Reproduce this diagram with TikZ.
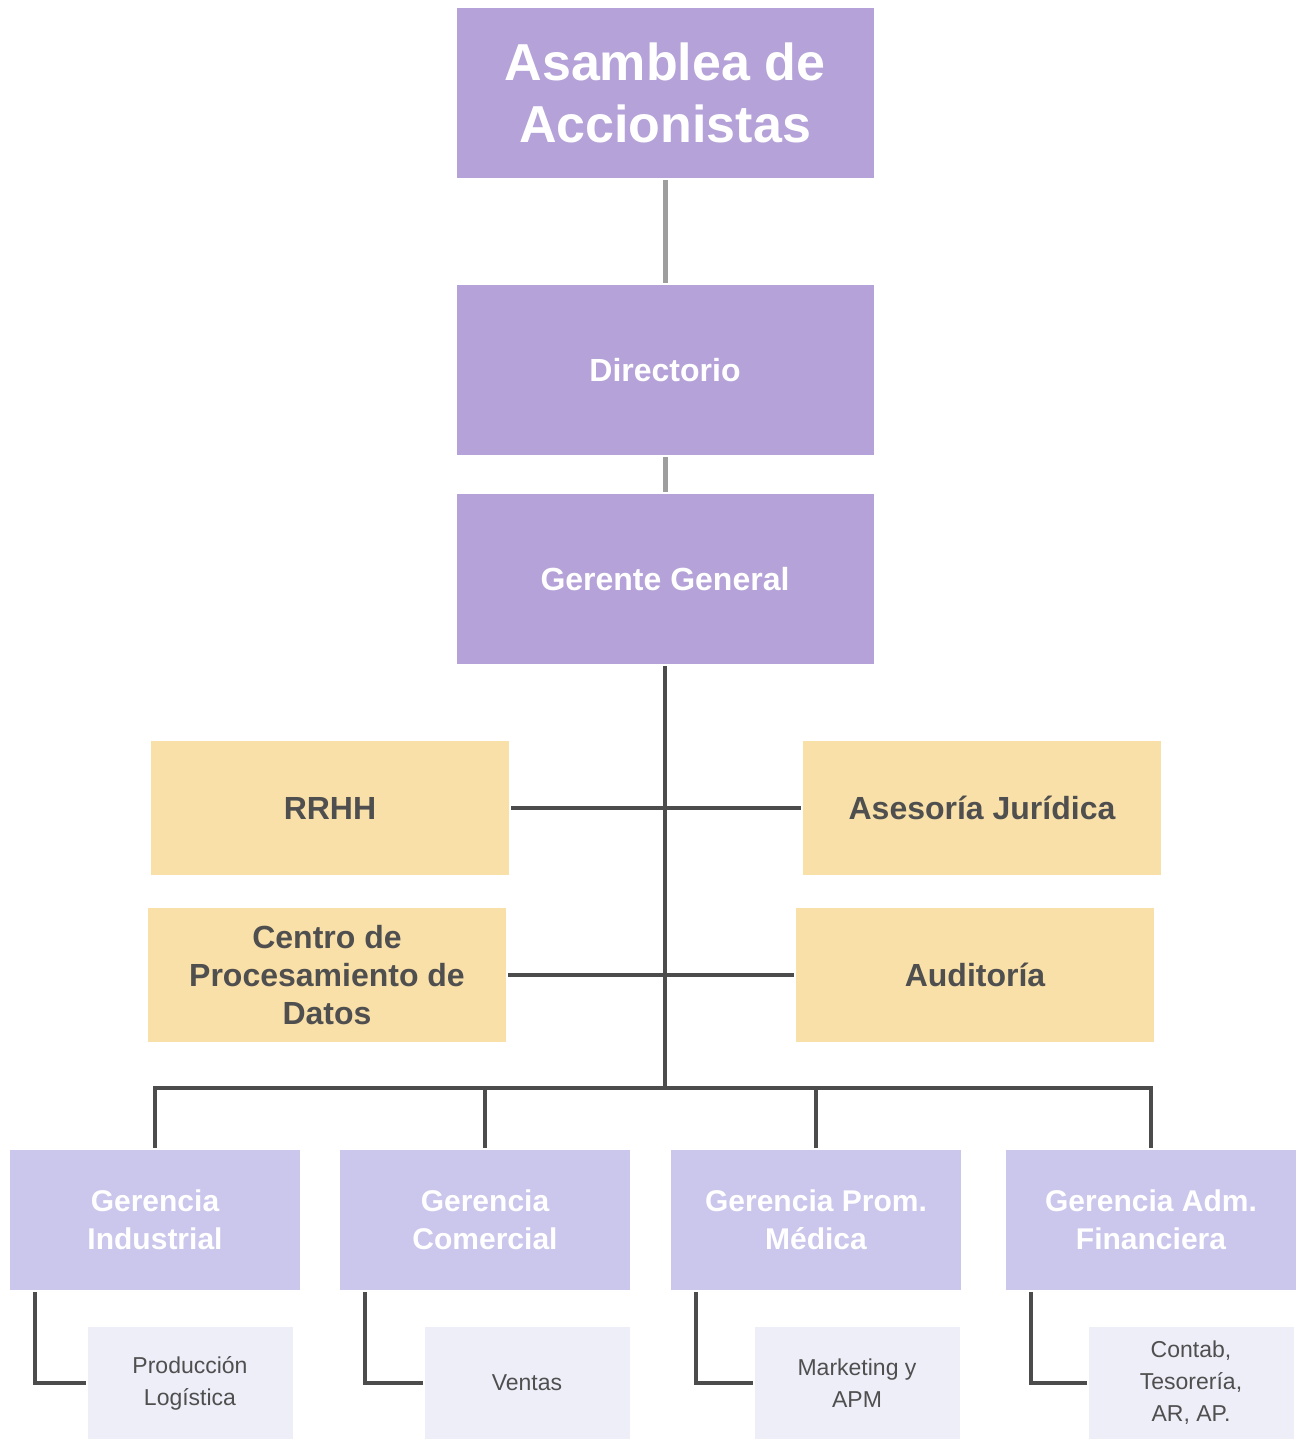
\documentclass[tikz,border=0pt]{standalone}
\usepackage{fontspec}
\setmainfont{Liberation Sans}
\usetikzlibrary{calc}

\definecolor{moradotop}{HTML}{B4A2D8}
\definecolor{moradoger}{HTML}{CAC6EC}
\definecolor{moradosub}{HTML}{EEEEF9}
\definecolor{amarillo}{HTML}{F9E0A9}
\definecolor{textogris}{HTML}{4F4F4F}

\begin{document}
\begin{tikzpicture}
[x=0.5pt,y=-0.5pt,line width=2pt]

  \tikzstyle{caja}=[rectangle,inner sep=2pt,align=center,font=\bfseries]
  \tikzstyle{cima}=[caja,fill=moradotop,text=white,minimum width=208.5pt,minimum height=85pt]
  \tikzstyle{staff}=[caja,fill=amarillo,text=textogris,minimum width=179pt,minimum height=67pt,
                     font=\bfseries\fontsize{16}{19}\selectfont]
  \tikzstyle{gerencia}=[caja,fill=moradoger,text=white,minimum width=145pt,minimum height=70pt,
                        font=\bfseries\fontsize{15}{19}\selectfont]
  \tikzstyle{area}=[caja,fill=moradosub,text=textogris,minimum width=102.5pt,minimum height=56pt,
                    font=\fontsize{11.5}{16}\selectfont]
  \tikzstyle{linea}=[draw=black!70]
  \tikzstyle{lineaclara}=[draw=black!38,line width=2.5pt]

  \useasboundingbox (0,0) rectangle (1301,1445);

  % nivel superior
  \node[cima,font=\bfseries\fontsize{26}{31}\selectfont] (asamblea) at (665,93) {Asamblea de\\Accionistas};
  \node[cima,font=\bfseries\fontsize{16}{19}\selectfont] (directorio) at (665,370) {Directorio};
  \node[cima,font=\bfseries\fontsize{16}{19}\selectfont] (gerente) at (665,579) {Gerente General};

  % staff
  \node[staff] (rrhh)     at (330,808) {RRHH};
  \node[staff] (asesoria) at (982,808) {Asesoría Jurídica};
  \node[staff] (centro)   at (327,975) {Centro de\\Procesamiento de\\Datos};
  \node[staff] (auditoria) at (975,975) {Auditoría};

  % gerencias
  \node[gerencia] (gind) at (155,1220)  {Gerencia\\Industrial};
  \node[gerencia] (gcom) at (485,1220)  {Gerencia\\Comercial};
  \node[gerencia] (gmed) at (816,1220)  {Gerencia Prom.\\Médica};
  \node[gerencia] (gfin) at (1151,1220) {Gerencia Adm.\\Financiera};

  % areas
  \node[area] (prod)   at (190,1383)  {Producción\\Logística};
  \node[area] (ventas) at (527,1383)  {Ventas};
  \node[area] (mkt)    at (857,1383)  {Marketing y\\APM};
  \node[area] (contab) at (1191,1383) {Contab,\\Tesorería,\\AR, AP.};

  \coordinate (bus) at (665,1088);

  \path[lineaclara] (asamblea) -- (directorio)
                    (directorio) -- (gerente);
  \path[linea] (gerente) -- (bus)
               (rrhh) -- (asesoria)
               (centro) -- (auditoria)
               (gind.north) |- (bus) -| (gfin.north)
               (gcom.north) -- (gcom.north |- bus)
               (gmed.north) -- (gmed.north |- bus);

  \path[linea] ($(gind.south west)+(27,0)$) |- (prod.west)
               ($(gcom.south west)+(27,0)$) |- (ventas.west)
               ($(gmed.south west)+(27,0)$) |- (mkt.west)
               ($(gfin.south west)+(27,0)$) |- (contab.west);
\end{tikzpicture}
\end{document}
